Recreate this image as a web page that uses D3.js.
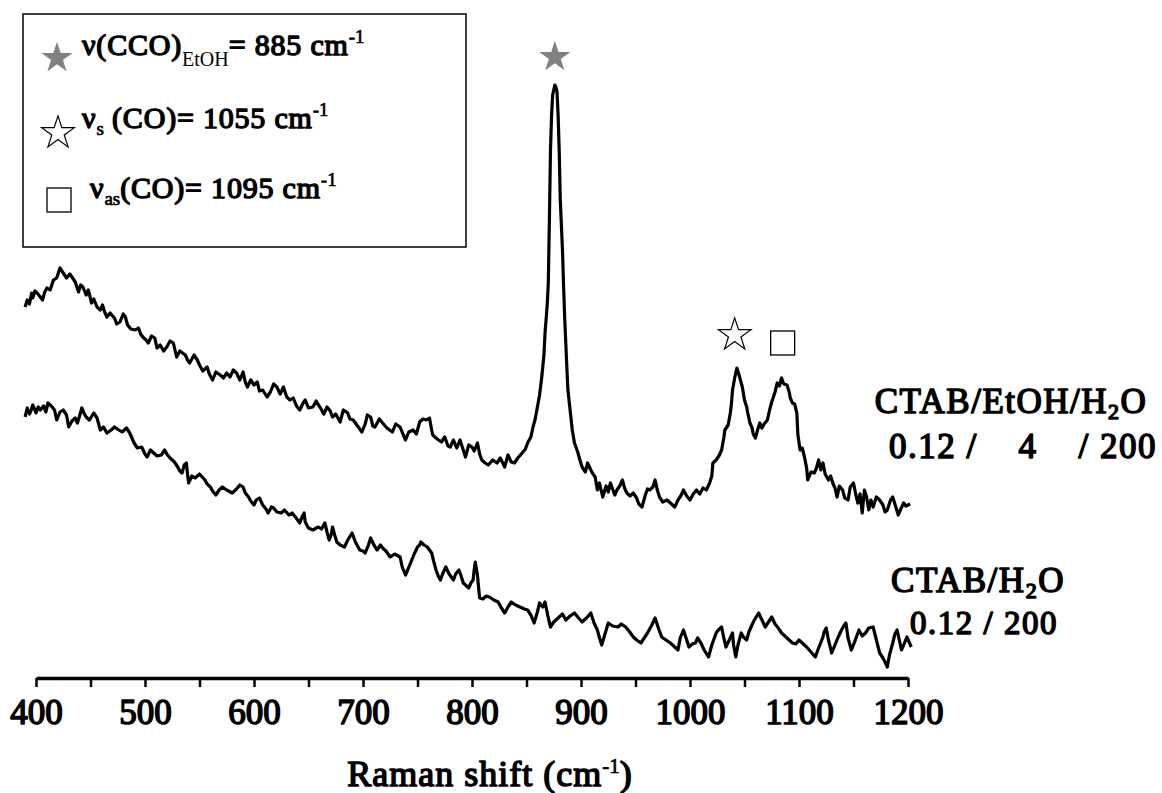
<!DOCTYPE html>
<html>
<head>
<meta charset="utf-8">
<script src="https://cdn.jsdelivr.net/npm/d3@7"></script>
<style>
  body { margin: 0; background: #fff; }
  svg text { font-family: "Liberation Serif", "Times New Roman", serif !important; font-weight: normal; fill: #000;
             stroke: #000; stroke-width: 1.4px; stroke-linejoin: round; }
  svg text .plain { stroke-width: 0; letter-spacing: 0; }
  svg text .sm { stroke-width: 0.7px; letter-spacing: 0; }
</style>
</head>
<body>
<div id="chart"></div>
<script>
// Raman spectra, [shift (cm-1), intensity (a.u., offset)]
var ethanolSpectrum = [
  [390,393],[392,400],[394,396],[396,407],[397,402],[399,409],[401,407],[404,403],[406,400],[408,408],[410,412],[413,410],[416,420],[419,422],
  [422,432],[425,427],[428,422],[431,426],[433,423],[436,418],[439,408],[441,415],[443,413],[446,405],[448,410],[451,397],[453,401],[456,393],
  [459,390],[461,395],[463,388],[465,383],[468,387],[472,382],[474,376],[477,378],[480,386],[482,383],[484,375],[487,371],[491,370],[494,372],[496,366],[498,363],
  [501,360],[503,357],[506,364],[509,362],[511,352],[514,355],[517,349],[520,353],[523,359],[526,357],[529,343],[532,349],[537,345],[539,340],[541,337],[545,345],[548,340],[550,335],
  [553,329],[557,333],[559,326],[562,320],[565,328],[569,325],[572,322],[575,327],[578,323],[581,330],[584,327],[587,320],[590,328],[592,318],[594,313],[597,320],[600,315],[603,318],[605,309],[608,310],
  [612,303],[615,308],[618,316],[621,313],[624,306],[627,313],[630,303],[633,300],[636,302],[639,294],[642,290],[645,297],[647,300],[650,292],[654,293],[657,299],[661,292],[664,286],[667,293],
  [670,289],[672,283],[675,286],[679,278],[682,290],[686,287],[688,281],[691,280],[695,274],[699,268],[702,276],[704,285],[707,283],[709,274],[711,273],[715,281],[718,277],[722,272],[727,268],[730,276],[734,273],
  [737,265],[739,260],[742,268],[746,270],[749,266],[752,278],[755,281],[758,280],[761,282],[763,270],[764,265],[768,261],[772,258],[775,263],[778,254],[780,253],[783,260],[786,252],[789,260],[792,250],[794,243],[797,255],[800,253],
  [802,249],[805,257],[807,246],[809,240],[812,237],[815,235],[819,240],[823,237],[826,242],[830,233],[833,245],[836,238],[839,237],[842,242],[846,247],[849,251],[851,257],[854,263],[856,273],
  [858,281],[860,293],[862,305],[864,323],[866,345],[867,367],[869,395],[870,417],[871,480],[872,550],[873,585],[874,605],[876,615],[877,613],[878,608],[879,585],[880,550],[881,500],[883,450],
  [884,415],[885,383],[887,333],[888,310],[890,290],[892,270],[894,257],[897,248],[899,240],[901,233],[904,228],[906,237],[909,230],[911,226],[913,223],[915,210],[917,217],[918,212],[920,203],[923,214],[925,208],[927,217],
  [929,211],[931,205],[933,210],[936,215],[938,220],[940,212],[942,207],[945,204],[948,207],[951,202],[953,196],[956,193],[959,205],[961,211],[963,210],[966,213],[968,220],[970,210],[972,203],[975,198],[979,200],[982,197],[986,193],
  [989,200],[992,205],[994,210],[997,204],[1000,200],[1003,206],[1006,210],[1009,206],[1012,212],[1015,210],[1018,217],[1020,224],[1021,237],[1024,240],[1027,245],[1029,250],[1031,262],[1032,270],[1035,275],[1037,287],[1038,296],[1039,310],[1041,322],
  [1043,332],[1045,325],[1047,317],[1048,313],[1050,300],[1052,293],[1053,287],[1055,277],[1057,272],[1058,266],[1060,262],[1062,270],[1064,277],[1066,272],[1068,276],[1071,280],[1073,290],[1075,298],[1078,308],[1080,317],[1082,314],[1084,322],
  [1086,316],[1089,315],[1091,308],[1092,302],[1094,297],[1096,296],[1098,287],[1099,265],[1101,250],[1103,252],[1105,243],[1107,232],[1108,220],[1111,228],[1114,227],[1116,232],[1118,240],[1120,230],[1122,237],[1124,226],[1127,220],[1129,224],[1131,217],
  [1133,212],[1135,203],[1137,214],[1140,210],[1142,202],[1145,200],[1147,213],[1150,217],[1152,206],[1154,197],[1156,206],[1158,187],[1160,210],[1162,203],[1164,190],[1166,200],[1168,193],[1171,203],[1174,200],[1177,195],[1179,188],[1181,190],
  [1184,200],[1186,203],[1188,196],[1191,185],[1193,190],[1196,197],[1198,194],[1200,195],[1202,196]
];

var waterSpectrum = [
  [390,283],[392,292],[394,286],[395,288],[397,295],[399,290],[400,287],[402,293],[404,290],[407,294],[409,288],[411,297],[414,294],[417,290],[419,280],[422,288],[425,290],
  [428,285],[430,273],[433,279],[436,282],[438,277],[440,284],[442,292],[444,287],[446,283],[449,280],[453,287],[456,282],[459,270],[462,273],[465,267],[469,270],[472,273],[476,270],[479,268],[483,272],[486,267],
  [488,262],[490,257],[493,252],[497,253],[500,246],[502,243],[505,250],[507,248],[511,244],[515,245],[518,250],[520,246],[523,242],[527,238],[530,233],[532,229],[534,227],[536,235],[538,237],[539,226],
  [540,217],[543,224],[546,222],[550,226],[555,220],[557,216],[560,213],[562,209],[565,205],[568,210],[571,213],[575,210],[580,207],[584,211],[587,215],[590,213],[592,207],[595,203],[597,199],[600,195],
  [602,200],[605,202],[608,195],[611,191],[613,187],[616,193],[618,192],[621,188],[625,187],[628,190],[632,185],[635,187],[638,183],[640,180],[642,177],[644,183],[646,187],[647,178],[650,172],[654,170],[659,173],
  [662,171],[665,177],[667,168],[669,160],[671,166],[672,173],[674,165],[676,158],[679,155],[683,153],[686,160],[690,167],[693,158],[697,150],[700,149],[702,147],[705,155],[707,162],[710,155],[713,150],
  [716,155],[718,152],[721,149],[725,143],[729,146],[734,143],[736,133],[739,125],[741,130],[744,138],[747,146],[750,153],[752,155],[753,158],[756,155],[759,153],[761,150],[763,147],[765,138],[767,130],
  [769,124],[771,120],[773,126],[776,133],[779,126],[783,120],[785,126],[788,130],[790,124],[792,117],[795,114],[797,112],[799,117],[801,120],[802,130],[803,138],[805,125],[806,113],[807,102],
  [810,101],[813,104],[816,103],[820,100],[824,98],[827,92],[830,87],[833,93],[836,98],[840,95],[844,93],[848,91],[851,90],[854,85],[857,77],[860,88],[862,97],[865,93],[867,98],[870,82],[872,73],
  [875,78],[878,81],[880,83],[883,86],[886,80],[890,84],[894,87],[897,83],[901,78],[905,82],[909,87],[912,77],[915,70],[917,62],[919,55],[922,66],[925,77],[929,74],[934,73],[937,76],[941,73],
  [944,69],[948,63],[951,60],[955,57],[958,62],[961,67],[965,75],[968,82],[971,72],[974,63],[978,60],[982,57],[985,54],[989,50],[991,62],[994,70],[997,60],[999,53],[1002,56],[1005,57],
  [1007,62],[1010,57],[1013,50],[1017,43],[1020,55],[1024,67],[1026,70],[1029,73],[1031,62],[1033,53],[1036,60],[1039,67],[1040,55],[1042,43],[1044,55],[1047,67],[1049,63],[1052,60],[1054,68],[1056,73],
  [1059,80],[1063,87],[1066,80],[1069,73],[1072,78],[1075,83],[1078,76],[1081,72],[1084,67],[1088,63],[1091,60],[1094,57],[1097,56],[1100,60],[1103,57],[1107,53],[1111,48],[1115,43],[1118,52],[1122,63],[1123,68],[1125,72],
  [1127,60],[1130,47],[1133,55],[1136,63],[1139,70],[1141,74],[1143,77],[1145,62],[1148,50],[1151,58],[1155,70],[1158,64],[1161,67],[1164,72],[1168,73],[1171,60],[1174,47],[1177,42],[1179,38],[1181,33],[1183,45],[1186,57],
  [1188,66],[1190,70],[1192,60],[1194,50],[1196,55],[1199,63],[1201,58],[1203,53]
];

// band markers: [shift, intensity, kind]
var bandMarkers = [
  [876, 643, "filledStar"],
  [1041, 365, "openStar"],
  [1085, 357, "square"]
];

var xTicks = d3.range(400, 1201, 50);

var width = 1162, height = 793;

var svg = d3.select("#chart").append("svg")
    .attr("width", width)
    .attr("height", height);

var x = d3.scaleLinear().domain([400, 1200]).range([36, 908]);
var y = d3.scaleLinear().domain([0, 640]).range([700, 60]);

var line = d3.line()
    .x(function(d) { return x(d[0]); })
    .y(function(d) { return y(d[1]); });

[ethanolSpectrum, waterSpectrum].forEach(function(s) {
  svg.append("path")
      .datum(s)
      .attr("d", line)
      .attr("fill", "none")
      .attr("stroke", "#000")
      .attr("stroke-width", 3.2)
      .attr("stroke-linejoin", "round");
});

// x axis
var xAxis = svg.append("g")
    .attr("transform", "translate(0,678)")
    .call(d3.axisBottom(x)
      .tickValues(xTicks)
      .tickSize(9)
      .tickSizeOuter(0)
      .tickPadding(12)
      .tickFormat(function(d) { return d % 100 === 0 ? d : ""; }));
xAxis.attr("font-family", null).attr("font-size", null);
xAxis.select(".domain").attr("stroke-width", 3.5);
xAxis.selectAll(".tick line").attr("stroke-width", 2.5);
xAxis.selectAll(".tick text")
    .style("font-size", "35px")
    .style("stroke-width", "1.5px")
    .attr("fill", "#000");

var xTitle = svg.append("text")
    .attr("x", 490)
    .attr("y", 786)
    .attr("text-anchor", "middle")
    .style("font-size", "36px")
    .style("letter-spacing", "1px")
    .style("stroke-width", "1.5px");
xTitle.append("tspan").text("Raman shift (cm");
xTitle.append("tspan").attr("class", "sm").attr("dy", -13).style("font-size", "21px").text("-1");
xTitle.append("tspan").attr("dy", 13).text(")");

// markers over bands
function drawMarker(g, kind, cx, cy) {
  if (kind === "square") {
    g.append("rect")
        .attr("x", cx - 12).attr("y", cy - 12)
        .attr("width", 24).attr("height", 24)
        .attr("fill", "none").attr("stroke", "#000").attr("stroke-width", 1.3);
  } else {
    g.append("path")
        .attr("transform", "translate(" + cx + "," + cy + ")")
        .attr("d", d3.symbol().type(d3.symbolStar).size(kind === "filledStar" ? 300 : 330)())
        .attr("fill", kind === "filledStar" ? "#808080" : "none")
        .attr("stroke", kind === "filledStar" ? "none" : "#000")
        .attr("stroke-width", 1.2);
  }
}

bandMarkers.forEach(function(m) {
  drawMarker(svg, m[2], x(m[0]), y(m[1]));
});

// legend box
var legend = svg.append("g");
legend.append("rect")
    .attr("x", 23).attr("y", 14)
    .attr("width", 443).attr("height", 233)
    .attr("fill", "#fff").attr("stroke", "#000").attr("stroke-width", 1.5);

drawMarker(legend, "filledStar", 57, 58);
drawMarker(legend, "openStar", 58, 133);
drawMarker(legend, "square", 59, 200);

function legendText(yPos, xPos) {
  return legend.append("text").attr("x", xPos).attr("y", yPos)
      .style("font-size", "30px").style("letter-spacing", "0.8px");
}

var t1 = legendText(55, 82);
t1.append("tspan").text("ν(CCO)");
t1.append("tspan").attr("class", "plain").attr("dy", 11).style("font-size", "20px").text("EtOH");
t1.append("tspan").attr("dy", -11).text("= 885 cm");
t1.append("tspan").attr("class", "sm").attr("dy", -12).style("font-size", "19px").text("-1");

var t2 = legendText(128, 82);
t2.append("tspan").text("ν");
t2.append("tspan").attr("class", "sm").attr("dy", 7).style("font-size", "19px").text("s");
t2.append("tspan").attr("dy", -7).text(" (CO)= 1055 cm");
t2.append("tspan").attr("class", "sm").attr("dy", -12).style("font-size", "19px").text("-1");

var t3 = legendText(198, 90);
t3.append("tspan").text("ν");
t3.append("tspan").attr("class", "sm").attr("dy", 7).style("font-size", "19px").text("as");
t3.append("tspan").attr("dy", -7).text("(CO)= 1095 cm");
t3.append("tspan").attr("class", "sm").attr("dy", -12).style("font-size", "19px").text("-1");

// sample labels
function sampleText(xPos, yPos) {
  return svg.append("text").attr("x", xPos).attr("y", yPos).attr("text-anchor", "middle")
      .style("font-size", "35px").style("letter-spacing", "1.5px").style("stroke-width", "1.5px");
}

var s1 = sampleText(1011, 413);
s1.append("tspan").text("CTAB/EtOH/H");
s1.append("tspan").attr("dy", 6).style("font-size", "22px").text("2");
s1.append("tspan").attr("dy", -6).text("O");
sampleText(1023, 458).style("white-space", "pre").attr("xml:space", "preserve")
    .text("0.12 /    4    / 200");

var s2 = sampleText(978, 592);
s2.append("tspan").text("CTAB/H");
s2.append("tspan").attr("dy", 6).style("font-size", "22px").text("2");
s2.append("tspan").attr("dy", -6).text("O");
sampleText(984, 634).style("font-size", "33px").text("0.12 / 200");
</script>
</body>
</html>
